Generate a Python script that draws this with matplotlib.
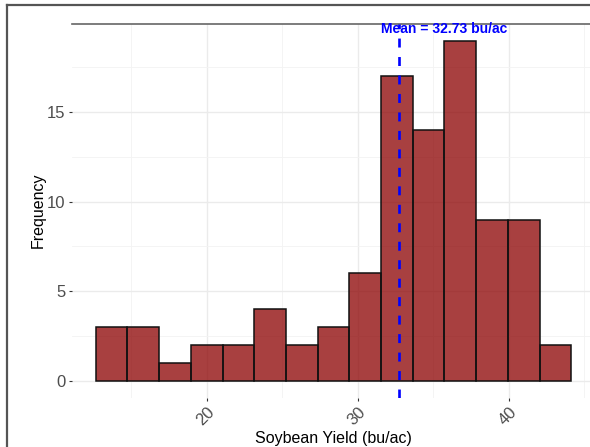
import numpy as np
import matplotlib
matplotlib.use("Agg")
import matplotlib.pyplot as plt
from matplotlib.lines import Line2D
from matplotlib.ticker import FixedLocator

# histogram bins (bu/ac) and counts
bin_start = 12.64
bin_width = 2.10
counts = [3, 3, 1, 2, 2, 4, 2, 3, 6, 17, 14, 19, 9, 9, 2]
mean_yield = 32.73

x_ticks = [20, 30, 40]
y_ticks = [0, 5, 10, 15]
x_minor = [15, 25, 35, 45]
y_minor = [2.5, 7.5, 12.5, 17.5]

plt.rcParams["font.family"] = ["Liberation Sans", "DejaVu Sans"]

fig = plt.figure(figsize=(5.9, 4.47), dpi=100)
ax = fig.add_axes([72 / 590, 1 - 397.7 / 447, (595 - 72) / 590, (397.7 - 23.5) / 447])

edges = bin_start + bin_width * np.arange(len(counts) + 1)
ax.bar(edges[:-1], counts, width=bin_width, align="edge",
       color="#8B0000", alpha=0.75, edgecolor="none", zorder=2)
ax.bar(edges[:-1], counts, width=bin_width, align="edge",
       fill=False, edgecolor="#111111", linewidth=1.1, zorder=3)

ax.axvline(mean_yield, color="blue", linestyle=(0, (3.4, 3.6)), linewidth=1.9, zorder=4)
ax.text(mean_yield + 3.0, 19.66, f"Mean = {mean_yield:.2f} bu/ac", color="blue",
        fontsize=10, fontweight="bold", ha="center", va="center", zorder=5)

# ggplot-style 5% expansion
lo, hi = edges[0], edges[-1]
pad = 0.05 * (hi - lo)
ax.set_xlim(lo - pad, hi + pad)
ax.set_ylim(-0.05 * max(counts), 1.05 * max(counts))

ax.set_xticks(x_ticks)
ax.set_yticks(y_ticks)
ax.xaxis.set_minor_locator(FixedLocator(x_minor))
ax.yaxis.set_minor_locator(FixedLocator(y_minor))

ax.grid(which="major", color="#EBEBEB", linewidth=1.0, zorder=0)
ax.grid(which="minor", color="#F3F3F3", linewidth=0.6, zorder=0)
ax.set_axisbelow(True)

ax.tick_params(which="major", length=2.5, width=0.8, color="#333333",
               labelsize=12, labelcolor="#4D4D4D", pad=2)
ax.tick_params(which="minor", length=0)
for lab in ax.get_xticklabels():
    lab.set_rotation(45)
    lab.set_ha("right")
    lab.set_va("top")
    lab.set_rotation_mode("anchor")

for s in ["left", "right", "bottom"]:
    ax.spines[s].set_visible(False)
ax.spines["top"].set_color("#666666")
ax.spines["top"].set_linewidth(1.2)

ax.set_xlabel("Soybean Yield (bu/ac)", fontsize=11.5, color="black", labelpad=2)
ax.set_ylabel("Frequency", fontsize=11.5, color="black", labelpad=1)

# screenshot frame
fig.add_artist(Line2D([6.5 / 590, 6.5 / 590], [0, 1 - 5 / 447], transform=fig.transFigure,
                      color="#555555", linewidth=1.6))
fig.add_artist(Line2D([6.5 / 590, 1], [1 - 5 / 447, 1 - 5 / 447], transform=fig.transFigure,
                      color="#555555", linewidth=1.6))

fig.savefig("out.png", dpi=100)
